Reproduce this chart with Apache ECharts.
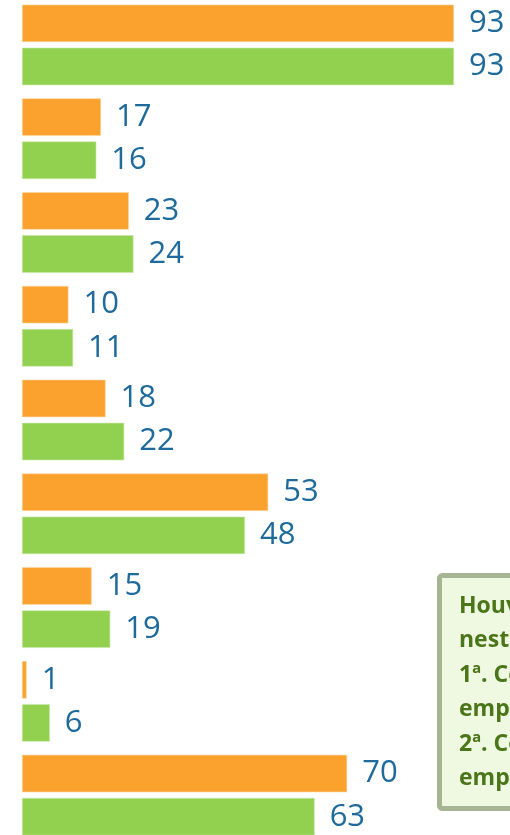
<!DOCTYPE html>
<html>
<head>
  <meta charset="utf-8">
  <title>barras</title>
  <script src="https://cdn.jsdelivr.net/npm/echarts@6/dist/echarts.min.js"></script>
  <style>
    html,body{margin:0;padding:0;background:#fff;overflow:hidden;}
    #main{position:absolute;left:0;top:-2px;width:510px;height:844px;}
  </style>
</head>
<body>
<div id="main"></div>
<script type="text/javascript">
// categorias (sem rótulo visível no recorte)
var categorias = ['1','2','3','4','5','6','7','8','9'];
// série laranja (primeira coluna) e verde (segunda coluna)
var laranja = [93, 17, 23, 10, 18, 53, 15, 1, 70];
var verde   = [93, 16, 24, 11, 22, 48, 19, 6, 63];
// texto da caixa (cortado na borda direita)
var caixa = ['Houve mudança', 'nesta pesquisa:', '1ª. Coluna:', 'empresas 2015', '2ª. Coluna:', 'empresas 2016'];

var myChart = echarts.init(document.getElementById('main'));

var rotulo = {
    show: true,
    position: 'right',
    distance: 15,
    color: '#1D6A9B',
    fontFamily: 'Open Sans',
    fontSize: 31
};

var option = {
    animation: false,
    grid: {
        left: 22,
        top: 0,
        width: 464.5,
        bottom: 0
    },
    xAxis: {
        type: 'value',
        min: 0,
        max: 100,
        show: false
    },
    yAxis: {
        type: 'category',
        data: categorias,
        inverse: true,
        show: false
    },
    series: [{
        name: 'laranja',
        type: 'bar',
        data: laranja,
        barWidth: 37.5,
        barGap: '15%',
        itemStyle: {color: '#FBA12D', borderColor: '#FDD9A8', borderWidth: 0.6},
        label: rotulo
    }, {
        name: 'verde',
        type: 'bar',
        data: verde,
        barWidth: 37.5,
        itemStyle: {color: '#92D050', borderColor: '#CBEAA9', borderWidth: 0.6},
        label: rotulo
    }],
    graphic: [{
        type: 'rect',
        shape: {x: 439.5, y: 577.5, width: 120, height: 233, r: 3},
        style: {fill: '#EFF8E1', stroke: '#A6B594', lineWidth: 5}
    }, {
        type: 'text',
        x: 459,
        y: 591,
        style: {
            text: caixa.join('\n'),
            fill: '#4B7519',
            font: 'bold 23px "Open Sans"',
            lineHeight: 34.5,
            verticalAlign: 'top'
        }
    }]
};

myChart.setOption(option);
</script>
</body>
</html>
